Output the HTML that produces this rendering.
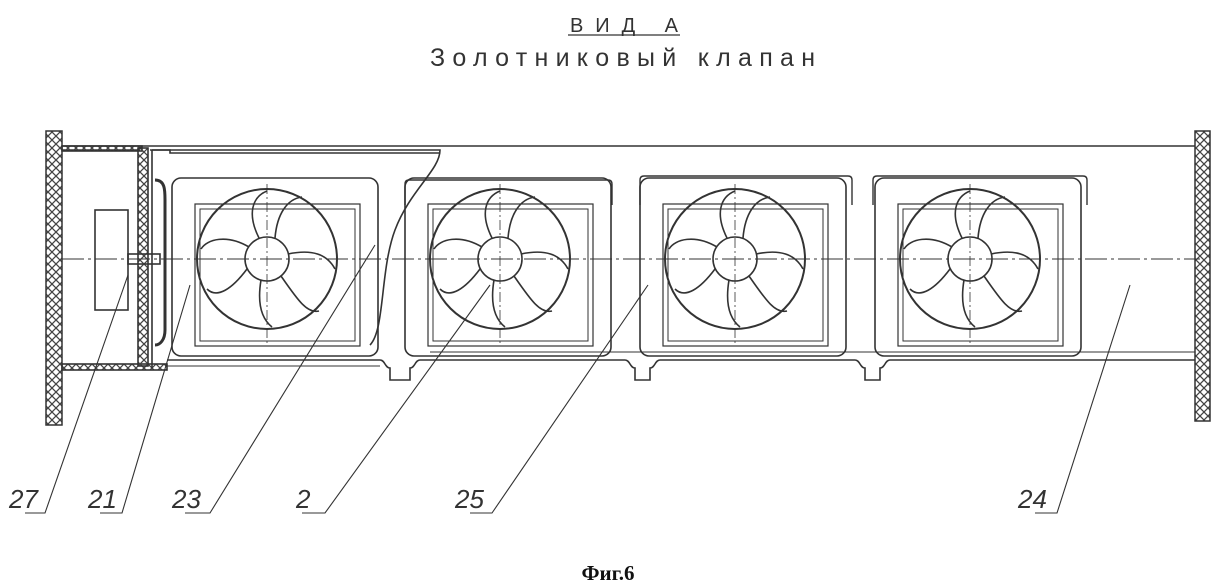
<!DOCTYPE html>
<html><head><meta charset="utf-8"><style>
html,body{margin:0;padding:0;background:#fff;}
svg{display:block}
text{font-family:"Liberation Sans","DejaVu Sans",sans-serif;fill:#333}
</style></head><body>
<svg width="1217" height="586" viewBox="0 0 1217 586" xmlns="http://www.w3.org/2000/svg">
<defs>
<pattern id="xh" width="8" height="8" patternUnits="userSpaceOnUse">
<path d="M0 0L8 8M8 0L0 8" stroke="#444" stroke-width="1.3"/>
</pattern>
<g id="fan" fill="none" stroke="#333" stroke-width="1.6">
<rect x="-95" y="-81" width="206" height="178" rx="9"/>
<rect x="-72" y="-55" width="165" height="142" stroke-width="1.2"/>
<rect x="-67" y="-50" width="155" height="132" stroke-width="1"/>
<circle cx="0" cy="0" r="70" stroke-width="2"/>
<circle cx="0" cy="0" r="22"/>
<path d="M-18 -12 C-40 -25,-60 -20,-66 -10 M-20 10 C-35 30,-50 40,-60 30 M-6 21 C-10 45,-5 60,5 68 M14 17 C30 40,40 55,52 52 M21 -5 C45 -10,60 -5,68 10 M8 -21 C10 -45,20 -60,35 -62 M-8 -21 C-20 -45,-15 -62,0 -68"/>
<path d="M0 -75V85" stroke-dasharray="10 3 2 3" stroke-width="0.8"/>
</g>
</defs>
<text x="570" y="32" font-size="20" textLength="108" lengthAdjust="spacing">ВИД А</text>
<line x1="568" y1="35" x2="680" y2="35" stroke="#333" stroke-width="1.2"/>
<text x="430" y="66" font-size="25" textLength="385" lengthAdjust="spacing">Золотниковый клапан</text>

<rect x="46" y="131" width="16" height="294" fill="url(#xh)" stroke="#333" stroke-width="1.5"/>
<rect x="1195" y="131" width="15" height="290" fill="url(#xh)" stroke="#333" stroke-width="1.5"/>
<g fill="none" stroke="#333" stroke-width="1.6">
<path d="M62 146H1195"/>
<path d="M62 150H140"/>
<rect x="62" y="364" width="105" height="6" fill="url(#xh)"/>
<rect x="62" y="146" width="80" height="5" fill="url(#xh)"/>
<rect x="138" y="148" width="10" height="218" fill="url(#xh)"/>
<path d="M152 150V368M152 150H170V153H440"/>
<path d="M150 150H440C440 170,410 190,395 230C380 270,385 330,370 345"/>
<rect x="95" y="210" width="33" height="100"/>
<rect x="128" y="254" width="32" height="10"/>
<path d="M155 180C165 180,165 190,165 200V330C165 340,160 345,155 345" stroke-width="3"/>
<path d="M167 360H380C385 360,385 368,390 368V380H410V368C415 368,415 360,420 360H625C630 360,630 368,635 368V380H650V368C655 368,655 360,660 360H855C860 360,860 368,865 368V380H880V368C885 368,885 360,890 360H1195"/>
<path d="M167 366H380M430 352H1195" stroke-width="1"/>
</g>
<use href="#fan" x="267" y="259"/>
<use href="#fan" x="500" y="259"/>
<use href="#fan" x="735" y="259"/>
<use href="#fan" x="970" y="259"/>
<path d="M640 205V180Q640 176 644 176H848Q852 176 852 180V205M873 205V180Q873 176 877 176H1083Q1087 176 1087 180V205M405 205V184Q405 180 409 180H608Q612 180 612 184V205" fill="none" stroke="#333" stroke-width="1.4"/>
<line x1="62" y1="259" x2="1200" y2="259" stroke="#333" stroke-width="1" stroke-dasharray="22 4 3 4"/>

<g fill="none" stroke="#333" stroke-width="1.1">
<path d="M25 513H45L128 275"/>
<path d="M100 513H122L190 285"/>
<path d="M185 513H210L375 245"/>
<path d="M302 513H325L490 285"/>
<path d="M470 513H492L648 285"/>
<path d="M1035 513H1057L1130 285"/>
</g>
<g font-size="26" font-style="italic">
<text x="9" y="508">27</text>
<text x="88" y="508">21</text>
<text x="172" y="508">23</text>
<text x="296" y="508">2</text>
<text x="455" y="508">25</text>
<text x="1018" y="508">24</text>
</g>
<text x="608" y="580" text-anchor="middle" font-weight="bold" font-size="21" style="font-family:'Liberation Serif',serif;fill:#111">Фиг.6</text>
</svg>
</body></html>
